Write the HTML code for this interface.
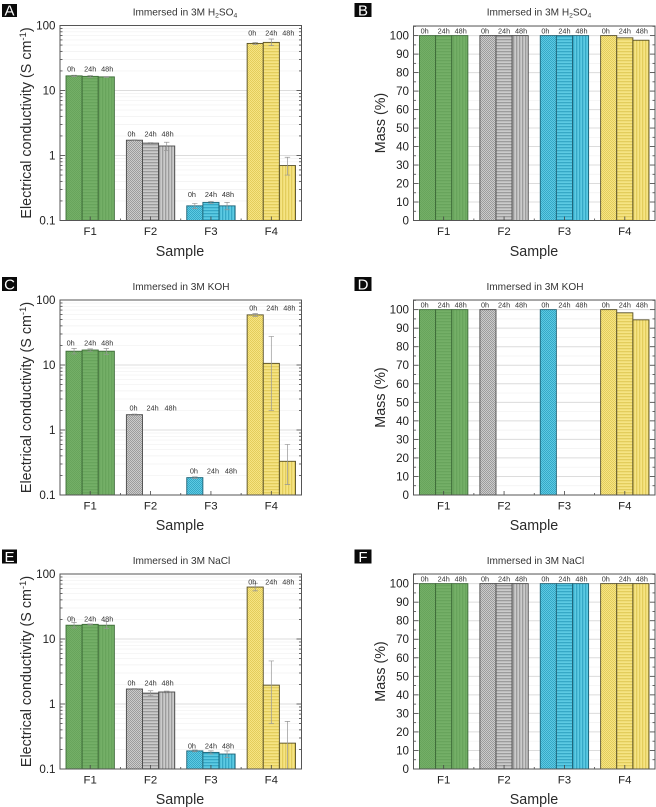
<!DOCTYPE html>
<html lang="en">
<head>
<meta charset="utf-8">
<title>Electrical conductivity and mass after immersion</title>
<style>
html,body{margin:0;padding:0;background:#fff;}
#figure{display:block;width:656px;height:807px;font-family:"Liberation Sans",Arial,sans-serif;filter:blur(0.35px);}
.title{font-size:10.1px;fill:#333;text-anchor:middle;}
.axis-title{font-size:14.3px;fill:#2a2a2a;text-anchor:middle;}
.tick{font-size:11.6px;fill:#222;}
.cat{font-size:11.4px;fill:#222;text-anchor:middle;}
.time{font-size:7.3px;fill:#333;text-anchor:middle;}
.letter{font-size:15px;fill:#fff;text-anchor:middle;}
</style>
</head>
<body>
<svg id="figure" xmlns="http://www.w3.org/2000/svg" width="656" height="807" viewBox="0 0 656 807">
<defs id="defs"></defs>

<g>
  <rect x="2" y="4" width="15" height="13" fill="#0a0a0a"/>
  <text class="letter" x="9.5" y="15.5">A</text>
  <text class="title" x="185" y="15.5">Immersed in 3M H<tspan font-size="6.8" dy="2">2</tspan><tspan dy="-2">SO</tspan><tspan font-size="6.8" dy="2">4</tspan></text>
  <text class="axis-title" transform="translate(31,123) rotate(-90)">Electrical conductivity (S cm<tspan font-size="9.5" dy="-5">-1</tspan><tspan dy="5">)</tspan></text>
  <text class="axis-title" x="180" y="256">Sample</text>
</g>
<g>
  <rect x="354.500" y="3" width="17" height="14" fill="#0a0a0a"/>
  <text class="letter" x="363" y="15.500">B</text>
  <text class="title" x="539" y="15.500">Immersed in 3M H<tspan font-size="6.8" dy="2">2</tspan><tspan dy="-2">SO</tspan><tspan font-size="6.8" dy="2">4</tspan></text>
  <text class="axis-title" transform="translate(385,123) rotate(-90)">Mass (%)</text>
  <text class="axis-title" x="534" y="256">Sample</text>
</g>
<g>
  <rect x="2" y="277" width="15" height="14" fill="#0a0a0a"/>
  <text class="letter" x="9.500" y="289.500">C</text>
  <text class="title" x="181" y="290">Immersed in 3M KOH</text>
  <text class="axis-title" transform="translate(31,397.500) rotate(-90)">Electrical conductivity (S cm<tspan font-size="9.5" dy="-5">-1</tspan><tspan dy="5">)</tspan></text>
  <text class="axis-title" x="180" y="530">Sample</text>
</g>
<g>
  <rect x="354.500" y="277" width="17" height="14" fill="#0a0a0a"/>
  <text class="letter" x="363" y="289.500">D</text>
  <text class="title" x="535" y="290">Immersed in 3M KOH</text>
  <text class="axis-title" transform="translate(385,397.500) rotate(-90)">Mass (%)</text>
  <text class="axis-title" x="534" y="530">Sample</text>
</g>
<g>
  <rect x="2" y="549.500" width="15" height="14" fill="#0a0a0a"/>
  <text class="letter" x="9.500" y="562">E</text>
  <text class="title" x="181.500" y="564">Immersed in 3M NaCl</text>
  <text class="axis-title" transform="translate(31,671.500) rotate(-90)">Electrical conductivity (S cm<tspan font-size="9.5" dy="-5">-1</tspan><tspan dy="5">)</tspan></text>
  <text class="axis-title" x="180" y="804">Sample</text>
</g>
<g>
  <rect x="354.500" y="549.500" width="17" height="14" fill="#0a0a0a"/>
  <text class="letter" x="363" y="562">F</text>
  <text class="title" x="535.500" y="564">Immersed in 3M NaCl</text>
  <text class="axis-title" transform="translate(385,671.500) rotate(-90)">Mass (%)</text>
  <text class="axis-title" x="534" y="804">Sample</text>
</g>
</svg>

<script>
// ---------- data ----------
const categories = ['F1', 'F2', 'F3', 'F4'];
const timeLabels = ['0h', '24h', '48h'];
const logTickLabels = ['0.1', '1', '10', '100'];
const logTickValues = [0.1, 1, 10, 100];
const massTickValues = [0, 10, 20, 30, 40, 50, 60, 70, 80, 90, 100];

const condAValues = [[16.8, 16.5, 16.2], [1.72, 1.55, 1.4], [0.168, 0.19, 0.168], [53, 55, 0.7]];
const condAHigh = [[17.2, 17, 16.4], [1.75, 1.58, 1.6], [0.183, 0.197, 0.19], [55, 62, 0.94]];
const condALow = [[16.4, 16, 16], [1.69, 1.52, 1.2], [0.153, 0.183, 0.146], [51, 49, 0.5]];
const condALabelAt = [21.4, 2.14, 0.251, 76.7];

const condCValues = [[16.3, 17, 16.3], [1.72, null, null], [0.185, null, null], [59, 10.6, 0.33]];
const condCHigh = [[18, 17.7, 18], [1.76, null, null], [0.19, null, null], [62, 27.5, 0.6]];
const condCLow = [[14.8, 16.3, 14.6], [1.68, null, null], [0.18, null, null], [56, 2, 0.145]];
const condCLabelAt = [21.8, 2.18, 0.234, 75.3];

const condEValues = [[16.3, 16.8, 16.3], [1.7, 1.47, 1.53], [0.19, 0.18, 0.17], [63, 1.95, 0.25]];
const condEHigh = [[18, 17.1, 18.6], [1.73, 1.6, 1.58], [0.196, 0.19, 0.19], [72, 4.6, 0.54]];
const condELow = [[14.8, 16.5, 14.4], [1.67, 1.34, 1.48], [0.184, 0.17, 0.15], [55, 0.5, 0.1]];
const condELabelAt = [20.3, 2.1, 0.226, 75.3];

const massBValues = [[100, 100, 100], [100, 100, 100], [100, 100, 100], [100, 98.8, 97.5]];
const massDValues = [[100, 100, 100], [100, null, null], [100, null, null], [100, 98.3, 94.5]];
const massFValues = [[100, 100, 100], [100, 100, 100], [100, 100, 100], [100, 100, 100]];

// ---------- styling ----------
const SVGNS = 'http://www.w3.org/2000/svg';
const svg = document.getElementById('figure');
const defs = document.getElementById('defs');
const palette = [
  { fill: '#74af67', hatch: '#68a45c', edge: '#3d6b38' },
  { fill: '#cbcbcb', hatch: '#9c9c9c', edge: '#4a4a4a' },
  { fill: '#5ccae3', hatch: '#36a8c6', edge: '#1d6376' },
  { fill: '#f6e483', hatch: '#e3cd5c', edge: '#564e26' }
];

function mk(tag, attrs, parent) {
  const el = document.createElementNS(SVGNS, tag);
  for (const k in attrs) el.setAttribute(k, attrs[k]);
  if (parent) parent.appendChild(el);
  return el;
}

palette.forEach(function (c, ci) {
  const cross = mk('pattern', { id: 'h' + ci + '-0', width: 2, height: 2, patternUnits: 'userSpaceOnUse' }, defs);
  mk('rect', { width: 2, height: 2, fill: c.fill }, cross);
  mk('rect', { width: 1, height: 1, fill: c.hatch }, cross);
  mk('rect', { x: 1, y: 1, width: 1, height: 1, fill: c.hatch }, cross);
  const horiz = mk('pattern', { id: 'h' + ci + '-1', width: 3, height: 3, patternUnits: 'userSpaceOnUse' }, defs);
  mk('rect', { width: 3, height: 3, fill: c.fill }, horiz);
  mk('rect', { width: 3, height: 1.3, fill: c.hatch }, horiz);
  const vert = mk('pattern', { id: 'h' + ci + '-2', width: 3, height: 3, patternUnits: 'userSpaceOnUse' }, defs);
  mk('rect', { width: 3, height: 3, fill: c.fill }, vert);
  mk('rect', { width: 1.3, height: 3, fill: c.hatch }, vert);
});

// ---------- panels ----------
function drawXAxis(g, p) {
  const step = (p.right - p.left) / categories.length;
  categories.forEach(function (name, i) {
    const cx = p.left + step * (i + 0.5);
    const t = mk('line', { x1: cx, x2: cx, y1: p.bottom, y2: p.bottom - 4, stroke: '#444', 'stroke-width': 0.8 }, g);
    
    
    const lab = mk('text', { x: cx, y: p.bottom + 14.5, 'class': 'cat' }, g);
    lab.textContent = name;
    
    
    if (i > 0) {
      const m = mk('line', { x1: p.left + step * i, x2: p.left + step * i, y1: p.bottom, y2: p.bottom - 2, stroke: '#444', 'stroke-width': 0.8 }, g);
      
      
    }
  });
}

function drawYTick(g, p, y, len) {
  const a = mk('line', { x1: p.left, x2: p.left + len, y1: y, y2: y, stroke: '#444', 'stroke-width': 0.8 }, g);
  
  
  const b = mk('line', { x1: p.right, x2: p.right - len, y1: y, y2: y, stroke: '#444', 'stroke-width': 0.8 }, g);
  
  
}

function drawGrid(g, p, y, major) {
  const l = mk('line', { x1: p.left, x2: p.right, y1: y, y2: y, stroke: major ? '#dcdcdc' : '#f0f0f0', 'stroke-width': major ? 1 : 0.7 }, g);
  
  
}

function drawYLabel(g, p, y, text) {
  const t = mk('text', { x: p.left - 4.5, y: y + 4, 'text-anchor': 'end', 'class': 'tick' }, g);
  t.textContent = text;
  
  
}

function drawPanel(p) {
  const g = mk('g', {}, svg);
  
  

  const yScale = p.log
    ? function (v) { return p.bottom - (Math.log10(v) - Math.log10(p.min)) / (Math.log10(p.max) - Math.log10(p.min)) * (p.bottom - p.top); }
    : function (v) { return p.bottom - (v - p.min) / (p.max - p.min) * (p.bottom - p.top); };
  const step = (p.right - p.left) / categories.length;
  const barW = step * 0.267;

  // grid and value ticks
  if (p.log) {
    logTickValues.forEach(function (v, i) {
      if (i < logTickValues.length - 1) {
        for (let k = 2; k < 10; k++) {
          drawGrid(g, p, yScale(v * k), false);
          drawYTick(g, p, yScale(v * k), 2.5);
        }
      }
      if (i > 0 && i < logTickValues.length - 1) drawGrid(g, p, yScale(v), true);
      drawYTick(g, p, yScale(v), 5);
      drawYLabel(g, p, yScale(v), logTickLabels[i]);
    });
  } else {
    massTickValues.forEach(function (v, i) {
      if (i > 0) drawGrid(g, p, yScale(v), true);
      drawYTick(g, p, yScale(v), 5);
      drawGrid(g, p, yScale(v + 5), false);
      drawYTick(g, p, yScale(v + 5), 2.5);
      drawYLabel(g, p, yScale(v), String(v));
    });
  }

  // bars, error bars, time labels
  categories.forEach(function (name, ci) {
    const cx = p.left + step * (ci + 0.5);
    const labelOffsets = p.labelOffsets[ci] || p.labelOffsets[0];
    timeLabels.forEach(function (time, si) {
      const v = p.values[ci][si];
      const bx = cx + (si - 1.5) * barW;
      if (v !== null) {
        const topY = yScale(v);
        const bar = mk('rect', {
          x: bx, y: topY, width: barW, height: p.bottom - topY,
          fill: 'url(#h' + ci + '-' + si + ')', stroke: palette[ci].edge, 'stroke-width': 0.9
        }, g);
        
        
        if (p.high) {
          const ex = bx + barW / 2;
          const yHi = yScale(p.high[ci][si]);
          const yLo = yScale(p.low[ci][si]);
          const err = mk('path', {
            d: 'M' + ex + ' ' + yHi + 'V' + yLo + 'M' + (ex - 2.7) + ' ' + yHi + 'h5.4M' + (ex - 2.7) + ' ' + yLo + 'h5.4',
            fill: 'none', stroke: '#969696', 'stroke-width': 0.7
          }, g);
          
          
        }
      }
      const labelY = yScale(p.labelAt[ci]) + 2.5;
      const lab = mk('text', { x: cx + labelOffsets[si], y: labelY, 'class': 'time' }, g);
      lab.textContent = time;
      
      
    });
  });

  drawXAxis(g, p);

  const frame = mk('rect', { x: p.left, y: p.top, width: p.right - p.left, height: p.bottom - p.top, fill: 'none', stroke: '#555', 'stroke-width': 1 }, g);
  
  
}

const stdOffsets = [[-19, 0, 17]];
drawPanel({ key: 'a', log: true, min: 0.1, max: 100, left: 60, right: 301.5, top: 25.5, bottom: 220.5,
  values: condAValues, high: condAHigh, low: condALow, labelAt: condALabelAt, labelOffsets: stdOffsets });
drawPanel({ key: 'c', log: true, min: 0.1, max: 100, left: 60, right: 301.5, top: 300, bottom: 495,
  values: condCValues, high: condCHigh, low: condCLow, labelAt: condCLabelAt,
  labelOffsets: [[-19.5, 0, 17], [-17, 2, 20], [-17, 2, 20], [-18, 1, 18]] });
drawPanel({ key: 'e', log: true, min: 0.1, max: 100, left: 60, right: 301.5, top: 574, bottom: 769,
  values: condEValues, high: condEHigh, low: condELow, labelAt: condELabelAt, labelOffsets: stdOffsets });

const massLabelAt = [102.6, 102.6, 102.6, 102.6];
drawPanel({ key: 'b', log: false, min: 0, max: 105.2, left: 413.5, right: 655, top: 26, bottom: 220.5,
  values: massBValues, labelAt: massLabelAt, labelOffsets: stdOffsets });
drawPanel({ key: 'd', log: false, min: 0, max: 105.2, left: 413.5, right: 655, top: 300, bottom: 495,
  values: massDValues, labelAt: massLabelAt, labelOffsets: stdOffsets });
drawPanel({ key: 'f', log: false, min: 0, max: 105.2, left: 413.5, right: 655, top: 574, bottom: 769,
  values: massFValues, labelAt: massLabelAt, labelOffsets: stdOffsets });
</script>
</body>
</html>
